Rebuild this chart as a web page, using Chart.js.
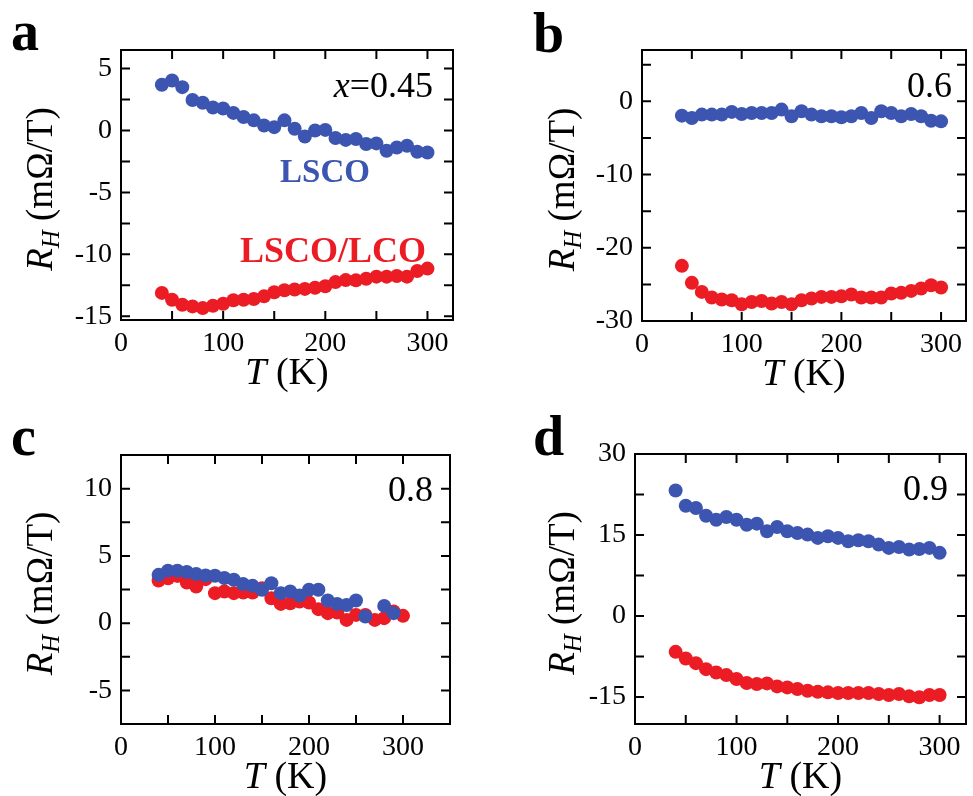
<!DOCTYPE html>
<html>
<head>
<meta charset="utf-8">
<script src="https://cdn.jsdelivr.net/npm/chart.js@4.4.1/dist/chart.umd.min.js"></script>
<style>
html, body { margin: 0; padding: 0; background: #fff; }
#wrap { position: relative; width: 973px; height: 796px; overflow: hidden; }
canvas { position: absolute; }
</style>
</head>
<body>
<div id="wrap">
    <canvas id="chartA" width="486" height="398" style="left:0;top:0"></canvas>
    <canvas id="chartB" width="487" height="398" style="left:486px;top:0"></canvas>
    <canvas id="chartC" width="486" height="398" style="left:0;top:398px"></canvas>
    <canvas id="chartD" width="487" height="398" style="left:486px;top:398px"></canvas>
</div>
<script>
// Temperatures (K), same for every panel
const temps = [40, 50, 60, 70, 80, 90, 100, 110, 120, 130, 140, 150, 160, 170, 180, 190, 200, 210, 220, 230, 240, 250, 260, 270, 280, 290, 300];

// Tick labels
const xTicks = [0, 100, 200, 300];
const yTicksA = [-15, -10, -5, 0, 5];
const yTicksB = [-30, -20, -10, 0];
const yTicksC = [-5, 0, 5, 10];
const yTicksD = [-15, 0, 15, 30];

// R_H values (mOhm/T)
const lscoA = [3.69, 4.04, 3.5, 2.46, 2.24, 1.86, 1.78, 1.42, 1.09, 0.82, 0.41, 0.27, 0.82, 0.14, -0.49, 0.0, 0.05, -0.6, -0.76, -0.68, -1.09, -1.04, -1.64, -1.37, -1.23, -1.72, -1.78];
const lcoA = [-13.11, -13.66, -14.07, -14.2, -14.34, -14.15, -13.99, -13.7, -13.66, -13.6, -13.39, -13.06, -12.9, -12.84, -12.79, -12.7, -12.57, -12.24, -12.08, -12.1, -11.97, -11.8, -11.8, -11.75, -11.8, -11.34, -11.15];

const lscoB = [-1.96, -2.28, -1.82, -1.82, -1.82, -1.45, -1.73, -1.6, -1.6, -1.6, -1.14, -2.05, -1.37, -1.82, -2.05, -2.05, -2.19, -2.05, -1.6, -2.28, -1.37, -1.6, -2.05, -1.73, -2.05, -2.65, -2.74];
const lcoB = [-22.47, -24.79, -26.03, -26.79, -27.07, -27.16, -27.71, -27.4, -27.26, -27.62, -27.4, -27.71, -27.16, -26.93, -26.71, -26.71, -26.62, -26.38, -26.79, -26.79, -26.79, -26.25, -26.16, -25.89, -25.56, -25.11, -25.42];

const lscoC = [3.59, 3.9, 3.9, 3.8, 3.65, 3.55, 3.52, 3.35, 3.22, 2.9, 2.77, 2.48, 2.97, 2.23, 2.35, 2.05, 2.48, 2.48, 1.68, 1.43, 1.35, 1.68, 0.49, null, 1.28, 0.74, null];
const lcoC = [3.17, 3.34, 3.51, 3.02, 2.72, 3.27, 2.23, 2.35, 2.23, 2.27, 2.27, 2.6, 1.85, 1.43, 1.48, 1.61, 1.53, 1.04, 0.74, 0.79, 0.24, 0.61, 0.61, 0.24, 0.37, 0.86, 0.54];

const lscoD = [23.25, 20.42, 20.0, 18.57, 17.83, 18.33, 17.83, 16.91, 17.1, 15.69, 16.49, 15.69, 15.38, 15.07, 14.46, 14.77, 14.46, 13.84, 14.03, 13.84, 13.22, 12.61, 12.79, 12.3, 12.42, 12.61, 11.69];
const lcoD = [-6.64, -7.87, -8.73, -9.84, -10.45, -10.94, -11.68, -12.42, -12.6, -12.48, -13.04, -13.22, -13.53, -13.84, -14.02, -14.14, -14.27, -14.27, -14.27, -14.27, -14.45, -14.63, -14.45, -14.88, -15.06, -14.63, -14.63];

const BLUE = "#3c55b1";
const RED = "#ec1c24";
const SERIF = "'Liberation Serif', 'Times New Roman', serif";

function points(values) {
    return temps.map((t, i) => ({ x: t, y: values[i] }));
}

// Draw text made of several styled pieces on one baseline
function drawParts(ctx, parts, x, y, align) {
    let total = 0;
    parts.forEach(p => {
        ctx.font = p.font;
        p.w = ctx.measureText(p.text).width;
        total += p.w;
    });
    let cx = align === "right" ? x - total : align === "center" ? x - total / 2 : x;
    parts.forEach(p => {
        ctx.font = p.font;
        ctx.fillStyle = p.color || "#000";
        ctx.fillText(p.text, cx, y + (p.dy || 0));
        cx += p.w;
    });
}

// Frame with inward ticks on all four sides, plus the panel texts
const panelPlugin = {
    id: "panelDecor",
    afterDatasetsDraw(chart, args, o) {
        const ctx = chart.ctx;
        const a = chart.chartArea;
        const xs = chart.scales.x;
        const ys = chart.scales.y;
        const len = 9;
        ctx.save();
        ctx.strokeStyle = "#000";
        ctx.lineWidth = 2;
        ctx.strokeRect(a.left, a.top, a.right - a.left, a.bottom - a.top);
        ctx.beginPath();
        for (let v = Math.ceil(xs.min / o.xMinor) * o.xMinor; v <= xs.max; v += o.xMinor) {
            const px = xs.getPixelForValue(v);
            if (px - a.left < 2 || a.right - px < 2) continue;
            ctx.moveTo(px, a.bottom); ctx.lineTo(px, a.bottom - len);
            ctx.moveTo(px, a.top); ctx.lineTo(px, a.top + len);
        }
        for (let v = Math.ceil(ys.min / o.yMinor) * o.yMinor; v <= ys.max; v += o.yMinor) {
            const py = ys.getPixelForValue(v);
            if (py - a.top < 2 || a.bottom - py < 2) continue;
            ctx.moveTo(a.left, py); ctx.lineTo(a.left + len, py);
            ctx.moveTo(a.right, py); ctx.lineTo(a.right - len, py);
        }
        ctx.stroke();
        ctx.restore();
    },
    afterDraw(chart, args, o) {
        const ctx = chart.ctx;
        const a = chart.chartArea;
        const ox = o.offset[0], oy = o.offset[1];
        ctx.save();
        ctx.textBaseline = "alphabetic";
        ctx.textAlign = "left";

        // panel letter
        drawParts(ctx, [{ text: o.letter, font: "bold 56px " + SERIF }], o.letterPos[0] - ox, o.letterPos[1] - oy, "left");

        // x axis title
        drawParts(ctx, [
            { text: "T", font: "italic 38px " + SERIF },
            { text: " (K)", font: "38px " + SERIF }
        ], (a.left + a.right) / 2, a.bottom + 64, "center");

        // y axis title, rotated
        ctx.save();
        ctx.translate(o.yTitleX - ox, (a.top + a.bottom) / 2 + 4);
        ctx.rotate(-Math.PI / 2);
        drawParts(ctx, [
            { text: "R", font: "italic 37px " + SERIF },
            { text: "H", font: "italic 25px " + SERIF, dy: 7 },
            { text: " (m\u03A9/T)", font: "37px " + SERIF }
        ], 0, 12, "center");
        ctx.restore();

        // composition tag and other labels
        o.texts.forEach(t => {
            drawParts(ctx, t.parts, t.x - ox, t.y - oy, t.align);
        });
        ctx.restore();
    }
};

function makePanel(id, lsco, lco, o) {
    return new Chart(document.getElementById(id), {
        type: "scatter",
        data: {
            datasets: [
                { label: "LSCO", data: points(lsco), backgroundColor: BLUE, borderWidth: 0, pointRadius: 7, pointHoverRadius: 7 },
                { label: "LSCO/LCO", data: points(lco), backgroundColor: RED, borderWidth: 0, pointRadius: 7, pointHoverRadius: 7 }
            ]
        },
        options: {
            responsive: false,
            animation: false,
            layout: { padding: o.padding },
            plugins: {
                legend: { display: false },
                tooltip: { enabled: false },
                panelDecor: o
            },
            scales: {
                x: {
                    type: "linear",
                    position: "bottom",
                    min: 0,
                    max: o.xMax,
                    grid: { display: false, drawTicks: false },
                    border: { display: false },
                    ticks: { padding: 7, color: "#000", maxRotation: 0, font: { family: SERIF, size: 28 } },
                    afterBuildTicks(scale) { scale.ticks = xTicks.map(v => ({ value: v })); },
                    afterFit(scale) { scale.height = 40; }
                },
                y: {
                    type: "linear",
                    min: o.yMin,
                    max: o.yMax,
                    grid: { display: false, drawTicks: false },
                    border: { display: false },
                    ticks: { padding: 9, color: "#000", font: { family: SERIF, size: 28 } },
                    afterBuildTicks(scale) { scale.ticks = o.yTicks.map(v => ({ value: v })); },
                    afterFit(scale) { scale.width = 60; }
                }
            }
        },
        plugins: [panelPlugin]
    });
}

makePanel("chartA", lscoA, lcoA, {
    offset: [0, 0], padding: { left: 61, top: 50, right: 33, bottom: 38 },
    xMax: 325, xMinor: 50, yMin: -15.3, yMax: 6.5, yTicks: yTicksA, yMinor: 2.5,
    letter: "a", letterPos: [11, 50], yTitleX: 40,
    texts: [
        { x: 433, y: 97, align: "right", parts: [{ text: "x", font: "italic 36px " + SERIF }, { text: "=0.45", font: "36px " + SERIF }] },
        { x: 325, y: 182, align: "center", parts: [{ text: "LSCO", font: "bold 33px " + SERIF, color: BLUE }] },
        { x: 333, y: 262, align: "center", parts: [{ text: "LSCO/LCO", font: "bold 36px " + SERIF, color: RED }] }
    ]
});

makePanel("chartB", lscoB, lcoB, {
    offset: [486, 0], padding: { left: 96, top: 50, right: 1, bottom: 37 },
    xMax: 325, xMinor: 50, yMin: -30, yMax: 7, yTicks: yTicksB, yMinor: 5,
    letter: "b", letterPos: [533, 52], yTitleX: 562,
    texts: [
        { x: 952, y: 97, align: "right", parts: [{ text: "0.6", font: "36px " + SERIF }] }
    ]
});

makePanel("chartC", lscoC, lcoC, {
    offset: [0, 398], padding: { left: 61, top: 57, right: 36, bottom: 32 },
    xMax: 350, xMinor: 50, yMin: -7.5, yMax: 12.5, yTicks: yTicksC, yMinor: 2.5,
    letter: "c", letterPos: [11, 455], yTitleX: 40,
    texts: [
        { x: 433, y: 501, align: "right", parts: [{ text: "0.8", font: "36px " + SERIF }] }
    ]
});

makePanel("chartD", lscoD, lcoD, {
    offset: [486, 398], padding: { left: 89, top: 56, right: 6, bottom: 32 },
    xMax: 326, xMinor: 50, yMin: -20, yMax: 30, yTicks: yTicksD, yMinor: 7.5,
    letter: "d", letterPos: [533, 455], yTitleX: 562,
    texts: [
        { x: 948, y: 500, align: "right", parts: [{ text: "0.9", font: "36px " + SERIF }] }
    ]
});
</script>
</body>
</html>
